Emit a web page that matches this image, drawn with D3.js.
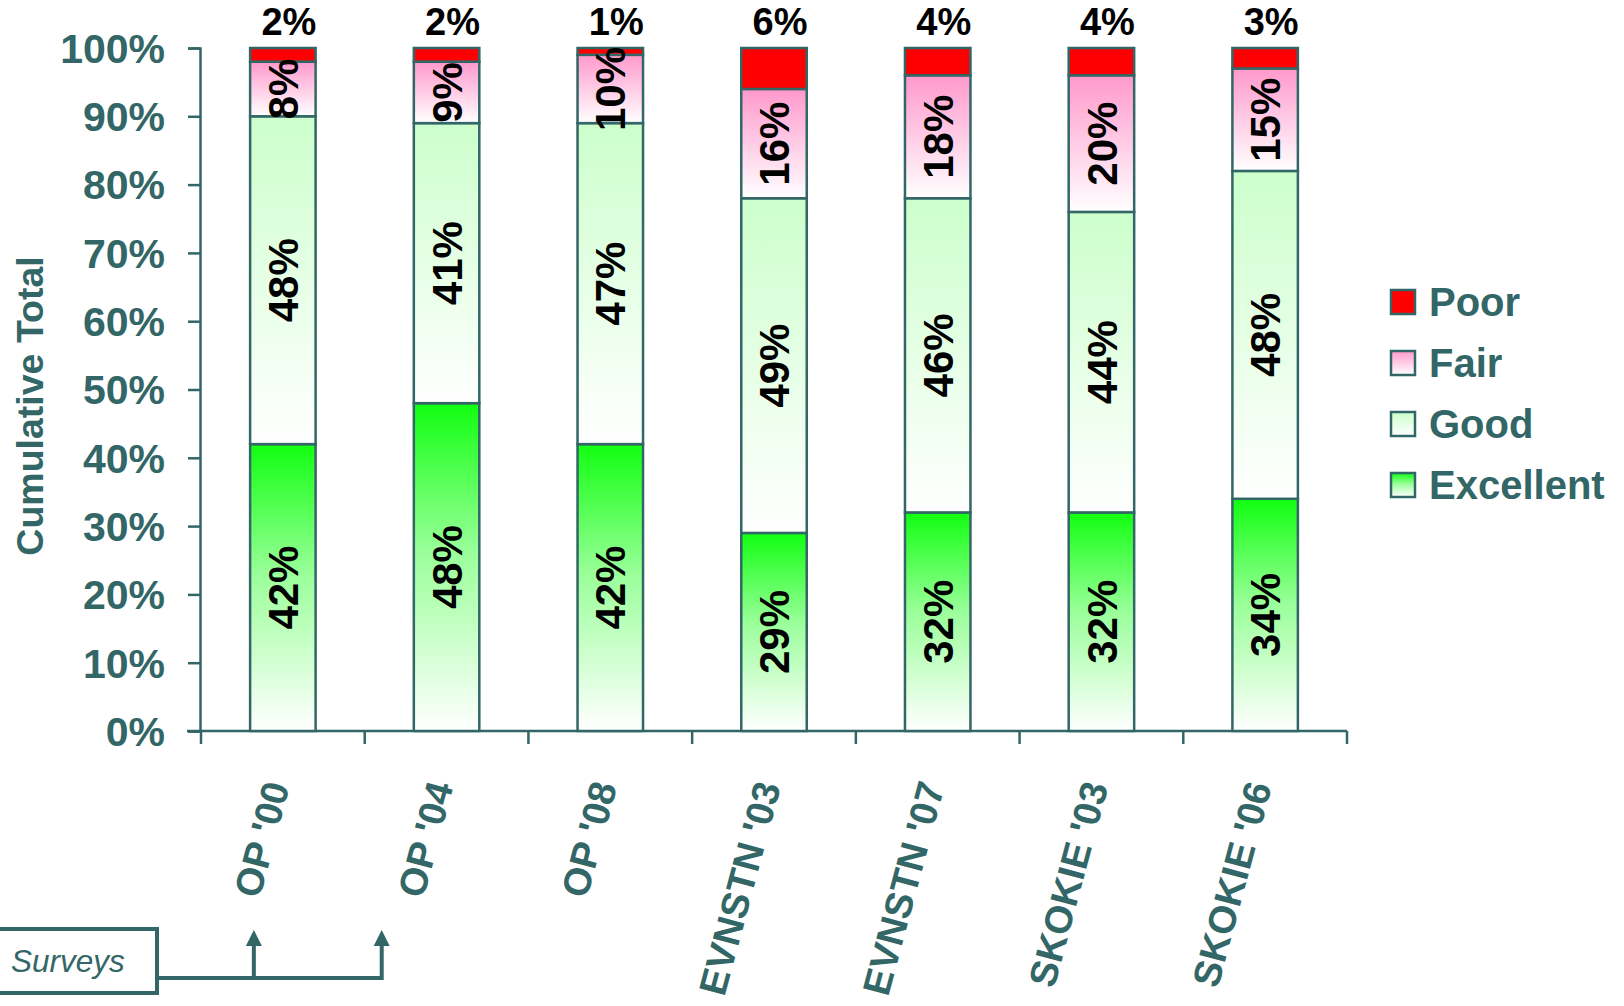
<!DOCTYPE html>
<html><head><meta charset="utf-8">
<script src="https://cdn.jsdelivr.net/npm/d3@7"></script>
<style>
html,body{margin:0;padding:0;background:#fff;}
svg{display:block;font-family:Arial,"Liberation Sans",sans-serif;}
</style></head>
<body>
<svg id="chart" width="1624" height="1006"></svg>
<script>
const categories = ["OP '00","OP '04","OP '08","EVNSTN '03","EVNSTN '07","SKOKIE '03","SKOKIE '06"];
const excellent = [42,48,42,29,32,32,34];
const good      = [48,41,47,49,46,44,48];
const fair      = [8,9,10,16,18,20,15];
const poor      = [2,2,1,6,4,4,3];
const seriesNames = ["Excellent","Good","Fair","Poor"];
const yTicks = [0,10,20,30,40,50,60,70,80,90,100];
const legendOrder = ["Poor","Fair","Good","Excellent"];
const yTitle = "Cumulative Total";
const noteText = "Surveys";

const TEAL = "#336666";
const svg = d3.select("#chart");

const defs = svg.append("defs");
const grads = {
  Excellent: [["0%","#11ff11"],["45%","#99ff99"],["100%","#ffffff"]],
  Good: [["0%","#ccffcc"],["100%","#ffffff"]],
  Fair: [["0%","#ff99cc"],["100%","#ffffff"]],
  Poor: [["0%","#ff0000"],["100%","#ff0000"]]
};
Object.entries(grads).forEach(([k,stops])=>{
  const g = defs.append("linearGradient").attr("id","g"+k).attr("x1",0).attr("y1",0).attr("x2",0).attr("y2",1);
  stops.forEach(s=>g.append("stop").attr("offset",s[0]).attr("stop-color",s[1]));
});

const y = d3.scaleLinear().domain([0,100]).range([731,48]);
const x = d3.scaleBand().domain(categories).range([201,1347]).paddingInner(0.6).paddingOuter(0.3);

const table = categories.map((c,i)=>({cat:c, Excellent:excellent[i], Good:good[i], Fair:fair[i], Poor:poor[i]}));
const stacked = d3.stack().keys(seriesNames)(table);

// Y axis
const yAxis = d3.axisLeft(y).tickValues(yTicks).tickFormat(d=>d+"%").tickSize(12).tickSizeOuter(12).tickPadding(23);
const yg = svg.append("g").attr("transform","translate(200,0)").call(yAxis);
yg.selectAll("path,line").attr("stroke",TEAL).attr("stroke-width",2.5);
yg.selectAll("text").attr("fill",TEAL).attr("font-size",41).attr("font-weight","bold")
  .attr("font-family",'Arial,"Liberation Sans",sans-serif').attr("dy","0.35em");

// X axis line and boundary ticks
const step = x.step();
const bounds = categories.map(c=>x(c) - (step - x.bandwidth())/2);
bounds.push(x.range()[1]);
const xg = svg.append("g");
xg.append("line").attr("x1",187).attr("x2",x.range()[1]).attr("y1",y(0)).attr("y2",y(0)).attr("stroke",TEAL).attr("stroke-width",2.5);
xg.selectAll("line.tk").data(bounds).join("line").attr("class","tk")
  .attr("x1",d=>d).attr("x2",d=>d).attr("y1",y(0)).attr("y2",y(0)+13).attr("stroke",TEAL).attr("stroke-width",2.5);

// bars
const layers = svg.append("g").selectAll("g").data(stacked).join("g").attr("fill",d=>"url(#g"+d.key+")");
layers.selectAll("rect").data(d=>d).join("rect")
  .attr("x",d=>x(d.data.cat)).attr("width",x.bandwidth())
  .attr("y",d=>y(d[1])).attr("height",d=>y(d[0])-y(d[1]))
  .attr("stroke",TEAL).attr("stroke-width",2.5);

// inside labels
stacked.filter(s=>s.key!=="Poor").forEach(s=>{
  svg.append("g").selectAll("text").data(s).join("text")
    .attr("transform",d=>`translate(${x(d.data.cat)+x.bandwidth()/2},${y((d[0]+d[1])/2)}) rotate(-90)`)
    .attr("text-anchor","middle").attr("dy","0.36em")
    .attr("font-size",42).attr("font-weight","bold").attr("fill","#000")
    .text(d=>(d[1]-d[0])+"%");
});
// poor labels on top
svg.append("g").selectAll("text").data(table).join("text")
  .attr("x",d=>x(d.cat)+x.bandwidth()/2+6).attr("y",35)
  .attr("text-anchor","middle").attr("font-size",38).attr("font-weight","bold").attr("fill","#000")
  .text(d=>d.Poor+"%");

// x labels
svg.append("g").selectAll("text").data(categories).join("text")
  .attr("transform",c=>`translate(${x(c)+x.bandwidth()/2+7},786) rotate(-75)`)
  .attr("text-anchor","end").attr("font-size",38.5).attr("font-weight","bold").attr("fill",TEAL)
  .text(c=>c);

// y title
svg.append("text").attr("transform","translate(43,406) rotate(-90)")
  .attr("text-anchor","middle").attr("font-size",37.5).attr("font-weight","bold").attr("fill",TEAL)
  .text(yTitle);

// legend
const ly = d3.scalePoint().domain(legendOrder).range([302,485]);
const lg = svg.append("g").selectAll("g").data(legendOrder).join("g")
  .attr("transform",d=>`translate(1391,${ly(d)})`);
lg.append("rect").attr("x",0).attr("y",-12).attr("width",24).attr("height",24)
  .attr("fill",d=>"url(#g"+d+")").attr("stroke",TEAL).attr("stroke-width",2.5);
lg.append("text").attr("x",38).attr("y",0).attr("dy","0.36em")
  .attr("font-size",40).attr("font-weight","bold").attr("fill",TEAL).text(d=>d);

// Surveys note with arrows
const note = svg.append("g");
note.append("rect").attr("x",-10).attr("y",929).attr("width",167).attr("height",64)
  .attr("fill","#fff").attr("stroke",TEAL).attr("stroke-width",4);
note.append("text").attr("x",11).attr("y",972).attr("font-size",31.5).attr("font-style","italic").attr("fill",TEAL).text(noteText);
const arrowXs = [x(categories[0])+x.bandwidth()/2-29, bounds[1]+17];
note.append("path").attr("d",`M157,978H${arrowXs[1]}`).attr("stroke",TEAL).attr("stroke-width",4).attr("fill","none");
arrowXs.forEach(ax=>{
  note.append("path").attr("d",`M${ax},980V944`).attr("stroke",TEAL).attr("stroke-width",4);
  note.append("path").attr("d",`M${ax-8},946L${ax},930L${ax+8},946Z`).attr("fill",TEAL);
});
</script>
</body></html>
